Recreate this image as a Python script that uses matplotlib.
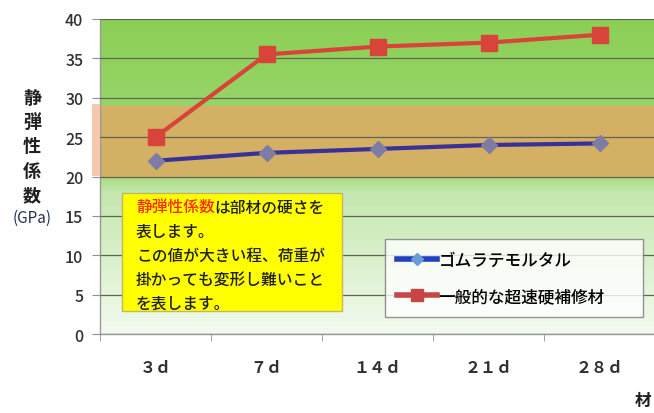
import numpy as np
import matplotlib
matplotlib.use("Agg")
import matplotlib.pyplot as plt
from matplotlib.colors import LinearSegmentedColormap
from matplotlib.lines import Line2D
from matplotlib.patches import Rectangle

plt.rcParams['font.family'] = ['Noto Sans CJK JP', 'DejaVu Sans']

# Data
ages = ["３ｄ", "７ｄ", "１４ｄ", "２１ｄ", "２８ｄ"]
rubber_latex_mortar = [22.0, 23.0, 23.5, 24.0, 24.2]
rapid_hardening_repair = [25.0, 35.5, 36.5, 37.0, 38.0]
series_names = ["ゴムラテモルタル", "一般的な超速硬補修材"]
yticks = [0, 5, 10, 15, 20, 25, 30, 35, 40]
band_range = (20, 29)

W, H = 654, 414
fig = plt.figure(figsize=(W / 100, H / 100), dpi=100)
fig.patch.set_facecolor("white")

def px(x0, y0, x1, y1):
    return [x0 / W, 1 - y1 / H, (x1 - x0) / W, (y1 - y0) / H]

ax = fig.add_axes(px(100, 20, 655, 335))
ax.set_xlim(-0.5, len(ages) - 0.5)
ax.set_ylim(0, 40)

# green vertical gradient background
cmap = LinearSegmentedColormap.from_list(
    "bg", [(0.0, "#f3faef"), (0.45, "#c4e7ae"), (0.5, "#a6dc80"),
           (0.75, "#95d466"), (1.0, "#8ccf55")])
grad = np.linspace(0, 1, 256).reshape(-1, 1)
ax.imshow(grad, extent=[0, 1, 0, 1], transform=ax.transAxes, origin="lower",
          aspect="auto", cmap=cmap, zorder=0)

# highlighted range band
ax.axhspan(*band_range, color="#d3b063", zorder=0.5)
fig.patches.append(Rectangle((92 / W, 1 - 177 / H), 8 / W, 72 / H,
                             transform=fig.transFigure, facecolor="#f6c8ad",
                             edgecolor="none", zorder=0))

ax.set_yticks(yticks)
ax.yaxis.grid(True, color="#5f6652", lw=0.9, zorder=1)
ax.set_axisbelow(False)
ax.set_xticks(range(len(ages)))
ax.set_xticklabels(ages, fontsize=11.5, color="#303030", fontweight="bold")
ax.set_xticks(np.arange(-0.5, len(ages), 1), minor=True)
ax.tick_params(axis="x", which="major", length=0, pad=18)
ax.tick_params(axis="x", which="minor", length=5, color="#909090", direction="out")
ax.tick_params(axis="y", length=6, color="#909090", labelsize=11.5,
               labelcolor="#303030", pad=6)
for lbl in ax.get_yticklabels():
    lbl.set_fontweight("medium")
for s in ["top", "right"]:
    ax.spines[s].set_visible(False)
for s in ["left", "bottom"]:
    ax.spines[s].set_color("#9a9a9a")
    ax.spines[s].set_linewidth(1.0)

x = np.arange(len(ages))
ax.plot(x, rubber_latex_mortar, color="#3b2f9a", lw=3, marker="D",
        markersize=8, markerfacecolor="#7c7ca6", markeredgecolor="#7c7ca6",
        zorder=3, clip_on=False)
ax.plot(x, rapid_hardening_repair, color="#d8433a", lw=3, marker="s",
        markersize=11, markerfacecolor="#d8433a", markeredgecolor="#d8433a",
        zorder=3, clip_on=False)

# legend
handles = [
    Line2D([], [], color="#2040c0", lw=4, marker="D", markersize=6,
           markerfacecolor="#6a9ad8", markeredgecolor="#6a9ad8"),
    Line2D([], [], color="#c84545", lw=4, marker="s", markersize=9,
           markerfacecolor="#c84545", markeredgecolor="#c84545"),
]
leg = ax.legend(handles, series_names, loc="lower left",
                bbox_to_anchor=(0.5135, 0.054, 0.465, 0.282), mode="expand",
                prop={"size": 12, "weight": "medium"}, frameon=True,
                fancybox=False, handlelength=2.4, handletextpad=0.1,
                labelspacing=1.1, borderpad=0.7, borderaxespad=0)
leg.get_frame().set_edgecolor("#7a7a7a")
leg.get_frame().set_linewidth(1.0)
leg.get_frame().set_facecolor("white")
leg.set_zorder(5)

# yellow note box
fig.patches.append(Rectangle((122 / W, 1 - 312 / H), 220 / W, 118 / H,
                             transform=fig.transFigure, facecolor="#ffff00",
                             edgecolor="#c8b45a", lw=1.0, zorder=4))
note_lines = ["表します。", "この値が大きい程、荷重が",
              "掛かっても変形し難いこと", "を表します。"]
note_kw = dict(fontsize=11.3, fontweight="medium", va="center", ha="left",
               zorder=6)
t1 = fig.text(136 / W, 1 - 208 / H, "静弾性係数", color="#ff2a00", **note_kw)
fig.canvas.draw()
bb = t1.get_window_extent()
fig.text(bb.x1 / W, 1 - 208 / H, "は部材の硬さを", color="#202020", **note_kw)
for i, line in enumerate(note_lines):
    fig.text(136 / W, 1 - (232 + 24 * i) / H, line, color="#202020", **note_kw)

# y-axis title, stacked vertically
for i, ch in enumerate("静弾性係数"):
    fig.text(32 / W, 1 - (98 + 24.5 * i) / H, ch, fontsize=13,
             fontweight="bold", color="#202020", ha="center", va="center")
fig.text(32 / W, 1 - 218 / H, "(GPa)", fontsize=11, color="#1f3350",
         ha="center", va="center")

# x-axis title at the lower right corner
fig.text(643 / W, 1 - 401 / H, "材", fontsize=12, fontweight="bold",
         color="#202020", ha="center", va="center")

fig.savefig("out.png", dpi=100, facecolor="white")
